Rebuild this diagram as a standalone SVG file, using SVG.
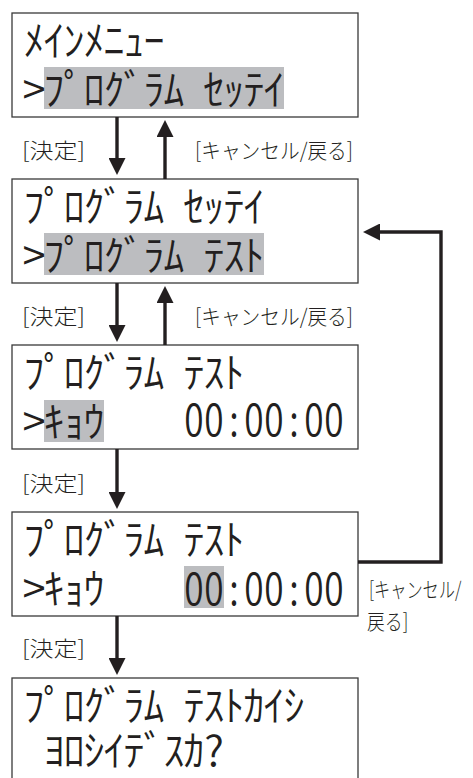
<svg xmlns="http://www.w3.org/2000/svg" width="473" height="778" viewBox="0 0 473 778">
  <style>
    .box { fill: #ffffff; stroke: #3a3a3a; stroke-width: 1.3; }
    .hl { fill: #bcbdc0; }
    .lcd { font-family: "Noto Sans CJK JP", "Noto Sans", sans-serif; font-size: 42px; font-weight: 350; fill: #231f20; text-anchor: middle; }
    .dig { font-family: "Noto Sans CJK JP", "Noto Sans", sans-serif; font-size: 44px; font-weight: 350; fill: #231f20; text-anchor: middle; }
    .lbl { font-family: "Noto Sans CJK JP", "Noto Sans", sans-serif; font-size: 21px; font-weight: 300; fill: #231f20; }
    .conn { fill: none; stroke: #231f20; stroke-width: 3.4; }
  </style>
  <defs>
    <marker id="ah" viewBox="0 0 10 10" refX="5" refY="5" markerUnits="userSpaceOnUse" markerWidth="23" markerHeight="17" orient="auto">
      <path d="M0,0 L10,5 L0,10 z" fill="#231f20"/>
    </marker>
  </defs>

  <g id="node-main-menu">
    <rect class="box" x="12" y="13" width="346" height="104"/>
    <rect class="hl" x="44" y="67" width="240" height="42"/>
    <text class="lcd" x="34 54 74 94 114 134 154" y="56">ﾒｲﾝﾒﾆｭｰ</text>
    <text class="lcd" x="34 54 74 94 114 134 154 174 194 214 234 254 274" y="105">&gt;ﾌﾟﾛｸﾞﾗﾑ ｾｯﾃｲ</text>
  </g>

  <g id="node-program-settei">
    <rect class="box" x="12" y="179" width="346" height="104"/>
    <rect class="hl" x="44" y="233" width="220" height="42"/>
    <text class="lcd" x="34 54 74 94 114 134 154 174 194 214 234 254" y="222">ﾌﾟﾛｸﾞﾗﾑ ｾｯﾃｲ</text>
    <text class="lcd" x="34 54 74 94 114 134 154 174 194 214 234 254" y="271">&gt;ﾌﾟﾛｸﾞﾗﾑ ﾃｽﾄ</text>
  </g>

  <g id="node-program-test-1">
    <rect class="box" x="12" y="345" width="346" height="104"/>
    <rect class="hl" x="44" y="400" width="60" height="42"/>
    <text class="lcd" x="34 54 74 94 114 134 154 174 194 214 234" y="388">ﾌﾟﾛｸﾞﾗﾑ ﾃｽﾄ</text>
    <text class="lcd" x="34 54 74 94" y="437">&gt;ｷｮｳ</text>
    <text class="dig" transform="scale(0.8,1)" x="242.5 267.5 292.5 317.5 342.5 367.5 392.5 417.5" y="436">00:00:00</text>
  </g>

  <g id="node-program-test-2">
    <rect class="box" x="12" y="512" width="346" height="104"/>
    <rect class="hl" x="184" y="566" width="40" height="42"/>
    <text class="lcd" x="34 54 74 94 114 134 154 174 194 214 234" y="555">ﾌﾟﾛｸﾞﾗﾑ ﾃｽﾄ</text>
    <text class="lcd" x="34 54 74 94" y="604">&gt;ｷｮｳ</text>
    <text class="dig" transform="scale(0.8,1)" x="242.5 267.5 292.5 317.5 342.5 367.5 392.5 417.5" y="605">00:00:00</text>
  </g>

  <g id="node-test-start">
    <rect class="box" x="12" y="678" width="346" height="130"/>
    <text class="lcd" x="34 54 74 94 114 134 154 174 194 214 234 254 274 294" y="721">ﾌﾟﾛｸﾞﾗﾑ ﾃｽﾄｶｲｼ</text>
    <text class="lcd" x="54 74 94 114 134 154 174 194 214" y="766">ﾖﾛｼｲﾃﾞｽｶ?</text>
  </g>

  <g id="connectors">
    <line class="conn" x1="117" y1="117" x2="117" y2="166.5" marker-end="url(#ah)"/>
    <line class="conn" x1="165" y1="179" x2="165" y2="128.5" marker-end="url(#ah)"/>
    <line class="conn" x1="117" y1="283" x2="117" y2="333.5" marker-end="url(#ah)"/>
    <line class="conn" x1="165" y1="345" x2="165" y2="294.5" marker-end="url(#ah)"/>
    <line class="conn" x1="117" y1="449" x2="117" y2="500.5" marker-end="url(#ah)"/>
    <line class="conn" x1="117" y1="616" x2="117" y2="666.5" marker-end="url(#ah)"/>
    <polyline class="conn" points="358,562 441,562 441,232 371.5,232" marker-end="url(#ah)"/>
  </g>

  <g id="labels">
    <text class="lbl" x="22" y="158" textLength="63" lengthAdjust="spacingAndGlyphs">[決定]</text>
    <text class="lbl" x="195" y="158" textLength="158" lengthAdjust="spacingAndGlyphs">[キャンセル/戻る]</text>
    <text class="lbl" x="22" y="324" textLength="63" lengthAdjust="spacingAndGlyphs">[決定]</text>
    <text class="lbl" x="195" y="324" textLength="158" lengthAdjust="spacingAndGlyphs">[キャンセル/戻る]</text>
    <text class="lbl" x="22" y="491" textLength="63" lengthAdjust="spacingAndGlyphs">[決定]</text>
    <text class="lbl" x="22" y="656" textLength="63" lengthAdjust="spacingAndGlyphs">[決定]</text>
    <text class="lbl" transform="translate(369,597) scale(0.77,1)" x="0" y="0">[キャンセル/</text>
    <text class="lbl" transform="translate(367,629) scale(0.85,1)" x="0" y="0">戻る]</text>
  </g>
</svg>
